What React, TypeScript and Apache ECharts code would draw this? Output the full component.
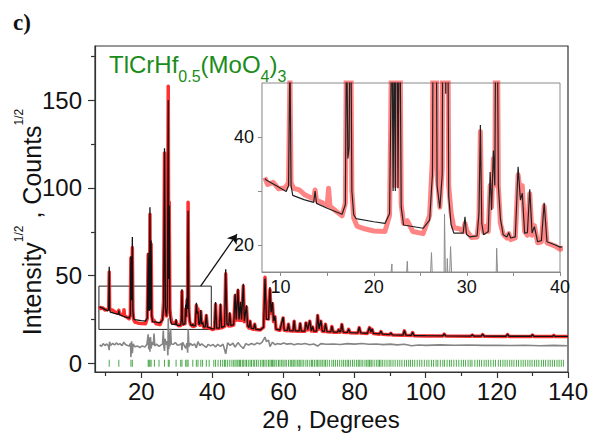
import React, { useEffect, useRef } from 'react';
import * as echarts from 'echarts';

// ---- data ----
const calcProfile: number[][] = [
  [8.3, 32.3], [8.5, 32.0], [9.5, 31.0], [10.6, 29.9], [10.85, 31.0], [11.0, 55], [11.12, 31.0], [11.3, 29.2],
  [12.5, 28.4], [13.55, 27.9], [13.7, 30.0], [13.85, 27.7],
  [15.0, 26.8], [16.6, 25.7], [16.95, 27.5], [17.08, 61], [17.22, 36], [17.35, 38], [17.5, 72], [17.65, 30], [17.85, 25.6], [18.1, 24.9],
  [20.0, 24.3], [21.2, 24.0], [21.7, 25.8], [21.95, 63], [22.08, 30], [22.2, 60], [22.32, 30], [22.45, 89], [22.6, 30.5], [22.78, 70], [22.95, 27], [23.2, 23.7],
  [25.3, 23.1], [26.0, 24.6], [26.3, 33], [26.55, 122.6], [26.8, 31], [27.1, 26.8], [27.35, 33], [27.6, 150], [27.73, 48], [27.87, 90], [28.05, 29], [28.3, 23.8], [28.6, 22.2],
  [29.6, 22.2], [29.8, 25.2], [29.95, 22.0], [30.3, 21.5], [31.1, 21.7], [31.3, 26], [31.45, 42.2], [31.6, 24], [31.8, 21.9], [32.3, 22.5], [32.5, 33.5], [32.65, 26.5], [32.85, 37.5], [33.0, 31], [33.18, 87], [33.38, 31], [33.6, 24.9], [33.9, 21.9],
  [34.3, 21.5], [34.5, 22.3], [34.7, 21.3], [35.2, 21.5], [35.5, 34.5], [35.75, 28.3], [35.95, 29.6], [36.2, 22.2], [36.5, 22.3], [36.75, 30.3], [37.0, 22.2], [37.25, 23.4], [37.6, 20.6], [38.0, 20.8], [38.3, 27.8], [38.6, 20.6], [39.5, 20.0], [40.0, 19.6],
  [40.6, 19.8], [40.9, 34.9], [41.2, 20], [42.0, 20.1], [42.3, 34], [42.6, 20.3], [43.45, 21.2], [43.75, 53.6], [44.1, 22.5], [44.6, 21.5], [44.9, 29], [45.2, 21.5], [46.0, 22], [46.4, 39.7], [46.7, 25], [47.2, 42.5], [47.5, 25], [47.9, 35], [48.2, 25], [48.7, 45.4], [49.0, 24], [49.6, 33], [49.9, 21.5], [50.3, 20.3], [50.6, 24.4], [50.9, 20], [51.6, 19.6], [51.9, 22.6], [52.2, 19.4], [53.5, 19.1], [54.4, 20.5], [54.8, 48.3], [55.2, 25], [55.8, 25], [56.2, 43.5], [56.5, 29], [56.9, 34.9], [57.2, 24], [57.6, 27], [57.9, 19.5],
  [59.0, 18.9], [59.9, 26.3], [60.2, 18.9], [61.1, 18.7], [61.4, 22.6], [61.7, 18.6], [62.7, 18.5], [63.0, 24.4], [63.3, 18.5], [64.4, 18.4], [64.7, 22.9], [65.0, 18.3], [66.0, 18.3], [66.3, 23.5], [66.8, 19.2], [67.4, 24.4], [67.8, 18.5], [68.2, 21], [68.5, 18.3], [69.3, 18.4], [69.6, 27.7], [70.0, 19.6], [70.5, 24.4], [70.9, 18.4], [71.5, 18.2], [71.8, 22.6], [72.2, 18.0],
  [73.3, 17.9], [73.6, 21.2], [74.0, 17.8], [75.2, 17.8], [75.5, 19.2], [75.8, 17.8], [76.1, 18.2], [76.4, 22.5], [76.8, 17.8], [78.0, 17.6], [78.3, 19.6], [78.7, 17.5], [80.9, 17.3], [81.3, 20.6], [81.7, 17.3], [83.6, 17.1], [84.2, 20.6], [84.55, 17.8], [84.9, 19.5], [85.3, 17.0], [87.0, 16.7], [87.4, 18.3], [87.8, 16.6], [89.8, 16.3], [90.2, 17.3], [90.6, 16.2],
  [93.6, 16.0], [94.0, 18.7], [94.4, 16.0], [95.9, 15.9], [96.3, 17.7], [96.7, 15.8], [100, 15.7], [104.8, 15.6], [105.2, 16.8], [105.6, 15.6], [112.7, 15.5], [113.1, 16.2], [113.5, 15.5], [115.6, 15.5], [116.0, 16.6], [116.4, 15.5], [122.6, 15.4], [123.0, 16.6], [123.4, 15.4], [129.6, 15.4], [130.0, 16.3], [130.4, 15.4], [135.6, 15.3], [136.0, 16.0], [136.4, 15.3], [140, 15.3],
];

const obsProfile: number[][] = [
  [8.3, 32.5], [8.6, 31.2], [9.2, 31.6], [9.8, 30.4], [10.5, 30.6], [10.85, 31.5], [11.0, 52], [11.12, 31.5], [11.4, 30.5], [12.0, 30.2], [12.6, 29.3], [13.2, 28.8], [13.55, 28.5], [13.7, 30.2], [13.85, 28.3], [14.5, 27.8], [15.0, 27.3], [15.15, 30.5], [15.3, 27.2], [16.0, 26.2], [16.6, 25.4], [16.95, 27.8], [17.08, 60], [17.22, 37], [17.35, 39], [17.5, 66], [17.65, 30], [17.85, 25], [18.2, 23.5],
  [19.0, 23.0], [20.0, 22.6], [21.2, 22.5], [21.7, 25.5], [21.95, 62], [22.08, 31], [22.2, 58], [22.32, 31], [22.45, 85], [22.6, 31], [22.78, 68], [22.95, 27.5], [23.2, 24], [23.6, 24.5], [24.2, 22.5], [25.3, 22.1], [26.0, 25.5], [26.3, 36], [26.55, 120], [26.8, 33], [27.1, 27], [27.35, 34], [27.6, 158], [27.73, 50], [27.87, 92], [28.05, 31], [28.3, 26], [28.6, 23.2],
  [29.2, 23], [29.6, 22.5], [29.8, 24], [30.0, 22.6], [30.5, 21.4], [31.1, 21.5], [31.3, 25], [31.45, 41], [31.6, 24], [31.8, 22.3], [32.1, 23.5], [32.3, 22.5], [32.5, 31], [32.65, 27], [32.85, 36], [33.0, 31], [33.18, 91.8], [33.38, 31], [33.6, 24], [33.9, 22.0],
  [34.3, 21.3], [34.5, 22.1], [34.7, 21.0], [35.2, 21.3], [35.5, 33], [35.75, 29.5], [35.95, 31], [36.2, 22.5], [36.5, 21.8], [36.75, 29.5], [37.0, 21.8], [37.25, 23.6], [37.6, 20.4], [38.0, 20.6], [38.3, 27.2], [38.6, 20.4], [39.5, 19.8], [40.0, 19.2],
  [40.6, 19.6], [40.9, 33.5], [41.2, 19.8], [42.0, 20.0], [42.3, 33], [42.6, 20.2], [43.45, 21.0], [43.75, 51], [44.1, 22.3], [44.6, 21.3], [44.9, 28], [45.2, 21.3], [46.0, 21.8], [46.4, 38.5], [46.7, 24.5], [47.2, 41.5], [47.5, 24.5], [47.9, 34], [48.2, 24.5], [48.7, 44], [49.0, 23.6], [49.6, 32], [49.9, 21.3], [50.3, 20.1], [50.6, 24], [50.9, 19.8], [51.6, 19.4], [51.9, 22.2], [52.2, 19.2], [53.5, 19.0], [54.4, 20.6], [54.8, 49], [55.2, 25.5], [55.8, 25.2], [56.2, 42], [56.5, 28.5], [56.9, 34], [57.2, 23.8], [57.6, 26.5], [57.9, 19.4],
  [59.0, 18.8], [59.9, 25.8], [60.2, 18.8], [61.1, 18.6], [61.4, 22.2], [61.7, 18.5], [62.7, 18.4], [63.0, 24], [63.3, 18.4], [64.4, 18.3], [64.7, 22.5], [65.0, 18.2], [66.0, 18.2], [66.3, 23], [66.8, 19.0], [67.4, 24], [67.8, 18.4], [68.2, 20.6], [68.5, 18.2], [69.3, 18.3], [69.6, 27.2], [70.0, 19.5], [70.5, 24], [70.9, 18.3], [71.5, 18.1], [71.8, 22.2], [72.2, 17.9],
  [73.3, 17.8], [73.6, 21.0], [74.0, 17.7], [75.2, 17.7], [75.5, 19.0], [75.8, 17.7], [76.1, 18.1], [76.4, 22.1], [76.8, 17.7], [78.0, 17.5], [78.3, 19.4], [78.7, 17.4], [80.9, 17.2], [81.3, 20.3], [81.7, 17.2], [83.6, 17.0], [84.2, 20.3], [84.55, 17.7], [84.9, 19.3], [85.3, 16.9], [87.0, 16.6], [87.4, 18.1], [87.8, 16.5], [89.8, 16.2], [90.2, 17.1], [90.6, 16.1],
  [93.6, 15.9], [94.0, 18.5], [94.4, 15.9], [95.9, 15.8], [96.3, 17.5], [96.7, 15.7], [100, 15.6], [104.8, 15.5], [105.2, 16.6], [105.6, 15.5], [112.7, 15.4], [113.1, 16.1], [113.5, 15.4], [115.6, 15.4], [116.0, 16.4], [116.4, 15.4], [122.6, 15.3], [123.0, 16.4], [123.4, 15.3], [129.6, 15.3], [130.0, 16.1], [130.4, 15.3], [135.6, 15.2], [136.0, 15.9], [136.4, 15.2], [140, 15.2],
];

const diffProfile: number[][] = [
  [8.3, 10.5], [8.8, 9.6], [9.3, 11.2], [9.8, 10.1], [10.3, 11.0], [10.8, 9.8], [11.0, 7.5], [11.1, 12.2], [11.4, 10.2], [12.0, 11.3], [12.5, 10.4], [13.0, 11.6], [13.5, 10.6], [14.0, 11.2], [14.6, 10.1], [15.1, 12.0], [15.5, 10.8], [16.0, 10.2], [16.6, 9.8], [17.0, 11.5], [17.1, 3.5], [17.3, 12.5], [17.5, 5.8], [17.7, 11.0], [18.2, 9.4],
  [19.0, 9.8], [19.6, 9.0], [20.3, 9.9], [21.0, 9.2], [21.6, 10.8], [21.95, 16.5], [22.1, 8.0], [22.3, 14.5], [22.45, 6.5], [22.6, 15.0], [22.8, 8.5], [23.0, 12.0], [23.4, 10.5], [23.6, 17.0], [23.8, 9.8], [24.3, 11.0], [25.0, 9.6], [25.6, 10.5], [26.0, 11.0], [26.2, 18.6], [26.4, 9.0], [26.55, 7.0], [26.7, 14.0], [27.0, 10.5], [27.3, 12.5], [27.5, 4.5], [27.6, 25.7], [27.75, 8.0], [27.9, 17.5], [28.05, 9.5], [28.25, 19.7], [28.45, 11.0],
  [29.0, 10.8], [29.6, 11.8], [30.2, 10.3], [30.8, 10.6], [31.3, 11.2], [31.45, 7.5], [31.6, 12.0], [32.0, 10.5], [32.5, 8.5], [32.85, 11.5], [33.05, 6.0], [33.2, 19.4], [33.4, 9.5], [33.8, 11.3], [34.4, 10.2], [35.0, 11.0], [35.5, 8.8], [35.95, 12.3], [36.5, 10.1], [37.0, 11.0], [37.6, 10.0], [38.3, 9.0], [38.8, 10.8], [39.5, 9.9],
  [40.2, 10.7], [40.9, 9.3], [41.5, 10.8], [42.3, 9.6], [43.0, 10.9], [43.75, 5.4], [44.3, 11.6], [45.0, 10.2], [45.8, 11.4], [46.4, 9.2], [47.2, 11.8], [47.9, 10.0], [48.7, 8.4], [49.4, 11.2], [50.2, 10.4], [51.0, 11.3], [51.8, 10.5], [52.6, 11.6], [53.4, 11.0], [54.0, 12.0], [54.8, 14.9], [55.2, 12.4], [55.8, 13.2], [56.2, 9.5], [56.9, 12.0], [57.6, 10.6], [58.4, 11.2], [59.2, 10.8],
  [60.0, 11.5], [61.0, 10.9], [62.0, 11.2], [63.0, 10.6], [64.0, 11.1], [65.0, 10.8], [66.0, 11.3], [67.4, 10.5], [68.5, 11.0], [69.6, 9.8], [70.5, 11.2], [72, 10.8], [74, 11.0], [76, 10.7], [78, 11.2], [80, 10.9], [82, 11.3], [84, 10.8], [86, 11.0], [88, 10.6], [90, 10.9], [92, 10.5], [94, 10.8], [96, 10.0], [98, 10.4],
  [100, 10.2], [104, 10.5], [108, 10.3], [112, 10.4], [116, 10.2], [120, 10.3], [124, 10.1], [128, 10.3], [132, 10.0], [136, 10.2], [140, 10.0],
];

const braggPositions: number[] = [
  11.0, 13.7, 17.1, 17.5, 21.95, 22.2, 22.45, 22.78, 23.7, 25.0, 26.55, 27.6, 27.87, 29.8, 31.1, 31.45, 32.5, 32.85, 33.18, 34.5, 35.5, 35.95, 36.75, 37.25, 38.3, 39.1,
  40.4, 40.9, 41.6, 42.3, 42.9, 43.4, 43.75, 44.3, 44.9, 45.5, 46.0, 46.4, 46.9, 47.2, 47.6, 47.9, 48.4, 48.7, 49.2, 49.6, 50.1, 50.6, 51.0, 51.5, 51.9, 52.4, 52.9, 53.5, 54.0, 54.4, 54.8, 55.3, 55.8, 56.2, 56.6, 56.9, 57.3, 57.6, 58.1, 58.6, 59.0, 59.5, 59.9,
  60.4, 60.8, 61.4, 61.9, 62.3, 62.7, 63.0, 63.5, 64.0, 64.4, 64.7, 65.2, 65.7, 66.3, 66.8, 67.4, 67.9, 68.2, 68.7, 69.2, 69.6, 70.0, 70.5, 70.9, 71.4, 71.8, 72.3, 72.9, 73.6, 74.1, 74.6, 75.2, 75.8, 76.4, 76.9, 77.4, 77.9, 78.3, 78.8, 79.4, 79.9,
  80.5, 81.0, 81.3, 81.8, 82.3, 82.9, 83.4, 83.8, 84.2, 84.6, 84.9, 85.5, 86.1, 86.6, 87.0, 87.4, 87.9, 88.5, 89.1, 89.7, 90.2, 90.8, 91.4, 92.1, 92.7, 93.3, 94.0, 94.6, 95.2, 95.7, 96.3, 96.9, 97.6, 98.3, 98.9, 99.6,
  100.3, 100.9, 101.6, 102.2, 102.9, 103.4, 104.1, 104.8, 105.3, 106.0, 106.7, 107.2, 107.9, 108.6, 109.3, 110.0, 110.6, 111.2, 111.9, 112.5, 113.0, 113.8, 114.5, 115.1, 115.7, 116.4, 117.0, 117.6, 118.3, 119.0, 119.6,
  120.4, 121.0, 121.7, 122.3, 122.9, 123.6, 124.2, 124.8, 125.5, 126.1, 126.8, 127.4, 128.0, 128.7, 129.3, 129.9, 130.6, 131.2, 131.8, 132.5, 133.1, 133.7, 134.4, 135.0, 135.6, 136.2, 136.9, 137.5, 138.1, 138.7,
];

const mainXLabels = [20, 40, 60, 80, 100, 120, 140];
const mainXMinor = [10, 30, 50, 70, 90, 110, 130];
const mainYLabels = [0, 50, 100, 150];
const mainYMinor = [25, 75, 125, 175];
const insetXLabels = [10, 20, 30, 40];
const insetXTicks = [10, 15, 20, 25, 30, 35, 40];
const insetYLabels = [20, 40];
const insetYTicks = [20, 30, 40];
const zoomBox = [[8.1, 19.3], [39.7, 44]];
const arrowLine = [[36.7, 44], [46.9, 73.6]];

const FONT = '"Liberation Sans", Arial, sans-serif';

function makeOption(): any {
  const axisBase = (color: string) => ({
    type: 'value',
    axisLine: { show: true, onZero: false, lineStyle: { color, width: 1.2 } },
    splitLine: { show: false },
    minorTick: { show: false },
  });
  return {
    animation: false,
    backgroundColor: '#ffffff',
    grid: [
      { left: 95, top: 46, right: 22, bottom: 61, show: true, borderColor: '#333', borderWidth: 1.2, backgroundColor: 'transparent', containLabel: false, outerBoundsMode: 'none' },
      { left: 262, top: 83, right: 30, bottom: 161, show: true, borderColor: '#8a8a8a', borderWidth: 1, backgroundColor: '#ffffff', containLabel: false, outerBoundsMode: 'none', z: 5 },
    ],
    xAxis: [
      {
        ...axisBase('#333'), gridIndex: 0, min: 7, max: 140, position: 'bottom',
        axisTick: { show: true, inside: false, length: 6, customValues: mainXLabels, lineStyle: { color: '#333', width: 1.2 } },
        axisLabel: { show: true, customValues: mainXLabels, fontSize: 24, fontFamily: FONT, color: '#111', margin: 7 },
      },
      {
        ...axisBase('#333'), gridIndex: 0, min: 7, max: 140, position: 'bottom',
        axisLine: { show: false, onZero: false },
        axisTick: { show: true, inside: false, length: 4, customValues: mainXMinor, lineStyle: { color: '#333', width: 1.2 } },
        axisLabel: { show: false },
      },
      {
        ...axisBase('#8a8a8a'), gridIndex: 1, min: 8, max: 40, position: 'bottom',
        axisTick: { show: true, inside: false, length: 4, customValues: insetXTicks, lineStyle: { color: '#8a8a8a', width: 1 } },
        axisLabel: { show: true, customValues: insetXLabels, fontSize: 18, fontFamily: FONT, color: '#111', margin: 6 },
      },
    ],
    yAxis: [
      {
        ...axisBase('#333'), gridIndex: 0, min: -5, max: 181, position: 'left',
        axisTick: { show: true, inside: false, length: 7, customValues: mainYLabels, lineStyle: { color: '#333', width: 1.2 } },
        axisLabel: { show: true, customValues: mainYLabels, fontSize: 24, fontFamily: FONT, color: '#111', margin: 13 },
      },
      {
        ...axisBase('#333'), gridIndex: 0, min: -5, max: 181, position: 'left',
        axisLine: { show: false, onZero: false },
        axisTick: { show: true, inside: false, length: 4, customValues: mainYMinor, lineStyle: { color: '#333', width: 1.2 } },
        axisLabel: { show: false },
      },
      {
        ...axisBase('#8a8a8a'), gridIndex: 1, min: 15, max: 50, position: 'left',
        axisTick: { show: true, inside: false, length: 4, customValues: insetYTicks, lineStyle: { color: '#8a8a8a', width: 1 } },
        axisLabel: { show: true, customValues: insetYLabels, fontSize: 18, fontFamily: FONT, color: '#111', margin: 8 },
      },
    ],
    series: [
      {
        type: 'line', xAxisIndex: 0, yAxisIndex: 0, data: obsProfile, showSymbol: false, symbol: 'none',
        lineStyle: { color: '#ff1a1a', width: 3.5, opacity: 0.9, join: 'round' }, z: 2, silent: true,
      },
      {
        type: 'line', xAxisIndex: 0, yAxisIndex: 0, data: diffProfile, showSymbol: false, symbol: 'none',
        lineStyle: { color: '#858585', width: 1.6 }, z: 3, silent: true,
      },
      {
        type: 'line', xAxisIndex: 0, yAxisIndex: 0, data: calcProfile, showSymbol: false, symbol: 'none',
        lineStyle: { color: '#111', width: 1.3 }, z: 4, silent: true,
        markArea: {
          silent: true,
          itemStyle: { color: 'rgba(0,0,0,0)', borderColor: '#222', borderWidth: 1 },
          data: [[{ coord: zoomBox[0] }, { coord: zoomBox[1] }]],
        },
        markLine: {
          silent: true, symbol: ['none', 'arrow'], symbolSize: 9,
          lineStyle: { color: '#111', width: 1.3, type: 'solid' },
          label: { show: false },
          data: [[{ coord: arrowLine[0] }, { coord: arrowLine[1] }]],
        },
      },
      {
        type: 'scatter', xAxisIndex: 0, yAxisIndex: 0, data: braggPositions.map((p) => [p, 0]),
        symbol: 'rect', symbolSize: [1, 7], itemStyle: { color: '#2c9a2c', opacity: 0.85 }, z: 3, silent: true,
      },
      {
        type: 'line', xAxisIndex: 2, yAxisIndex: 2, data: obsProfile, showSymbol: false, symbol: 'none',
        lineStyle: { color: '#ff2020', width: 5, opacity: 0.55, join: 'round' }, z: 6, silent: true, clip: true,
      },
      {
        type: 'line', xAxisIndex: 2, yAxisIndex: 2, data: diffProfile, showSymbol: false, symbol: 'none',
        lineStyle: { color: '#8c8c8c', width: 1 }, z: 7, silent: true, clip: true,
      },
      {
        type: 'line', xAxisIndex: 2, yAxisIndex: 2, data: calcProfile, showSymbol: false, symbol: 'none',
        lineStyle: { color: '#222', width: 1.2 }, z: 8, silent: true, clip: true,
      },
    ],
    graphic: [
      {
        type: 'text', left: 13, top: 11, z: 20,
        style: { text: 'c)', font: 'bold 23px "Liberation Serif", "Times New Roman", serif', fill: '#111' },
      },
      {
        type: 'text', x: 109, y: 64, z: 20,
        style: {
          text: '{m|TlCrHf}{s|0.5}{m|(MoO}{s|4}{m|)}{s|3}',
          verticalAlign: 'middle', align: 'left', fill: '#1a8c1a',
          rich: {
            m: { fontSize: 24, fontFamily: FONT, fill: '#1a8c1a' },
            s: { fontSize: 16, fontFamily: FONT, fill: '#1a8c1a', padding: [24, 0, 0, 0] },
          },
        },
      },
      {
        type: 'text', x: 32, y: 222, rotation: Math.PI / 2, z: 20,
        style: {
          text: '{a|Intensity}{s|1/2}{a| , Counts}{s|1/2}',
          align: 'center', verticalAlign: 'middle', fill: '#111',
          rich: {
            a: { fontSize: 25, fontFamily: FONT, fill: '#111' },
            s: { fontSize: 12, fontFamily: FONT, fill: '#111', padding: [0, 0, 26, 0] },
          },
        },
      },
      {
        type: 'text', x: 331, y: 419, z: 20,
        style: { text: '2θ , Degrees', font: `24px ${FONT}`, fill: '#111', align: 'center', verticalAlign: 'middle' },
      },
    ],
  };
}

export default function App() {
  const ref = useRef<HTMLDivElement>(null);
  useEffect(() => {
    if (!ref.current) return;
    const chart = echarts.init(ref.current, null, { renderer: 'svg' });
    chart.setOption(makeOption());
    return () => chart.dispose();
  }, []);
  return <div ref={ref} style={{ position: 'absolute', left: 0, top: 0, width: 590, height: 433 }} />;
}
